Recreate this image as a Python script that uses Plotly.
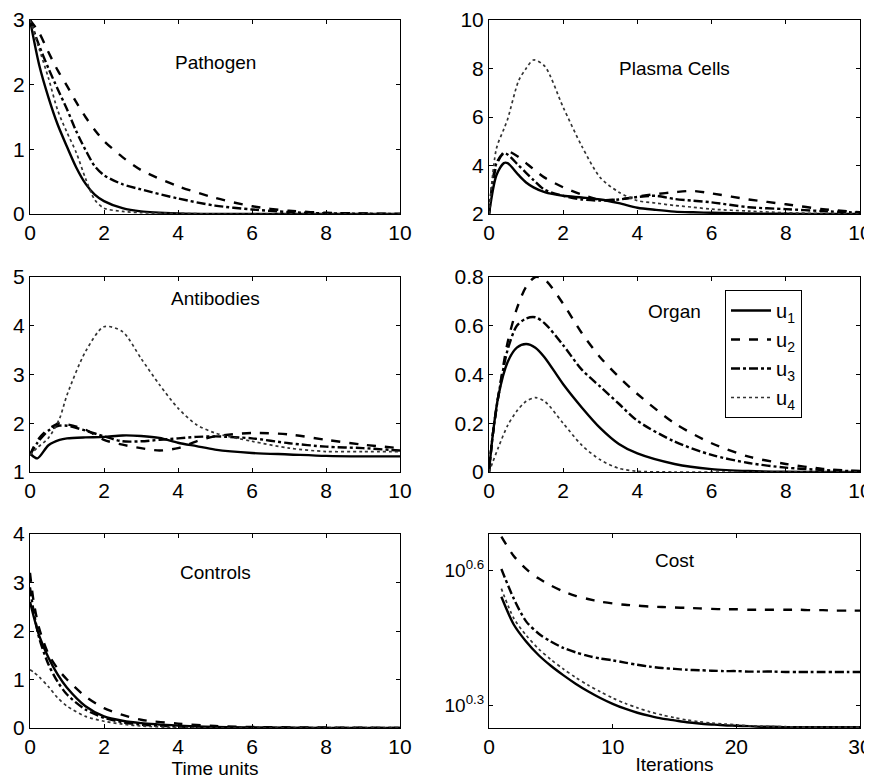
import plotly.graph_objects as go

# ---------------- data ----------------
series_names = ["u<sub>1</sub>", "u<sub>2</sub>", "u<sub>3</sub>", "u<sub>4</sub>"]

t_path = [0, 0.25, 0.5, 0.75, 1, 1.25, 1.5, 1.75, 2, 2.5, 3, 4, 5, 6, 7, 8, 10]
path_u1 = [3.0, 2.3, 1.8, 1.38, 1.04, 0.72, 0.47, 0.3, 0.2, 0.09, 0.04, 0.01, 0, 0, 0, 0, 0]
path_u2 = [3.0, 2.8, 2.5, 2.22, 1.98, 1.73, 1.5, 1.3, 1.13, 0.88, 0.68, 0.43, 0.25, 0.12, 0.05, 0.02, 0]
path_u3 = [3.0, 2.6, 2.25, 1.93, 1.62, 1.28, 0.99, 0.74, 0.6, 0.46, 0.38, 0.24, 0.13, 0.07, 0.03, 0.01, 0]
path_u4 = [3.0, 2.55, 2.1, 1.6, 1.26, 0.95, 0.55, 0.22, 0.09, 0.04, 0.02, 0.01, 0, 0, 0, 0, 0]

t_plas = [0, 0.2, 0.4, 0.5, 0.8, 1, 1.2, 1.5, 2, 2.5, 3, 3.5, 4, 4.5, 5, 5.5, 6, 7, 8, 9, 10]
plas_u1 = [2, 3.6, 4.1, 4.1, 3.6, 3.3, 3.1, 2.9, 2.75, 2.68, 2.6, 2.45, 2.26, 2.17, 2.1, 2.07, 2.05, 2.02, 2.01, 2.0, 2.0]
plas_u2 = [2, 4.0, 4.55, 4.6, 4.35, 4.1, 3.85, 3.5, 3.1, 2.8, 2.58, 2.6, 2.72, 2.82, 2.9, 2.95, 2.85, 2.6, 2.4, 2.2, 2.07]
plas_u3 = [2, 4.1, 4.5, 4.45, 4.0, 3.7, 3.4, 3.0, 2.75, 2.6, 2.55, 2.6, 2.7, 2.75, 2.62, 2.55, 2.48, 2.28, 2.2, 2.12, 2.05]
plas_u4 = [2, 4.7, 5.5, 5.9, 7.5, 8.0, 8.35, 8.1, 6.4, 4.8, 3.5, 2.9, 2.55, 2.45, 2.35, 2.28, 2.2, 2.12, 2.05, 2.02, 2.0]

t_anti = [0, 0.2, 0.5, 0.8, 1, 1.5, 2, 2.5, 3, 3.5, 4, 4.5, 5, 6, 7, 8, 9, 10]
anti_u1 = [1.38, 1.28, 1.55, 1.66, 1.69, 1.71, 1.72, 1.75, 1.74, 1.70, 1.6, 1.53, 1.46, 1.39, 1.36, 1.33, 1.32, 1.32]
anti_u2 = [1.35, 1.65, 1.88, 2.0, 1.98, 1.87, 1.66, 1.56, 1.49, 1.44, 1.49, 1.63, 1.73, 1.80, 1.77, 1.66, 1.56, 1.49]
anti_u3 = [1.35, 1.6, 1.85, 1.95, 1.95, 1.85, 1.73, 1.63, 1.63, 1.66, 1.69, 1.72, 1.73, 1.69, 1.59, 1.52, 1.49, 1.44]
anti_u4 = [1.35, 1.5, 1.7, 2.1, 2.58, 3.47, 3.98, 3.88, 3.33, 2.79, 2.31, 1.97, 1.80, 1.63, 1.49, 1.42, 1.42, 1.42]

t_org = [0, 0.1, 0.25, 0.5, 0.75, 1, 1.25, 1.5, 2, 2.5, 3, 3.5, 4, 5, 6, 7, 8, 9, 10]
org_u1 = [0, 0.15, 0.31, 0.45, 0.51, 0.525, 0.51, 0.47, 0.36, 0.265, 0.18, 0.115, 0.076, 0.033, 0.012, 0.004, 0.001, 0, 0]
org_u2 = [0, 0.15, 0.31, 0.53, 0.67, 0.76, 0.8, 0.79, 0.69, 0.57, 0.47, 0.39, 0.32, 0.2, 0.118, 0.063, 0.033, 0.013, 0.004]
org_u3 = [0, 0.15, 0.31, 0.5, 0.6, 0.63, 0.635, 0.61, 0.52, 0.42, 0.35, 0.28, 0.21, 0.125, 0.07, 0.037, 0.018, 0.008, 0.003]
org_u4 = [0, 0.04, 0.1, 0.19, 0.25, 0.29, 0.305, 0.29, 0.2, 0.11, 0.05, 0.015, 0.003, 0, 0, 0, 0, 0, 0]

t_ctrl = [0, 0.1, 0.25, 0.5, 0.75, 1, 1.5, 2, 2.5, 3, 4, 5, 6, 8, 10]
ctrl_u1 = [2.6, 2.3, 1.9, 1.45, 1.1, 0.83, 0.45, 0.24, 0.15, 0.10, 0.05, 0.02, 0.01, 0, 0]
ctrl_u2 = [3.2, 2.6, 2.05, 1.52, 1.22, 1.0, 0.65, 0.41, 0.27, 0.17, 0.09, 0.04, 0.02, 0.01, 0]
ctrl_u3 = [2.9, 2.4, 1.85, 1.31, 0.95, 0.69, 0.38, 0.21, 0.12, 0.07, 0.03, 0.01, 0, 0, 0]
ctrl_u4 = [1.2, 1.15, 1.05, 0.85, 0.62, 0.45, 0.24, 0.14, 0.08, 0.04, 0.01, 0, 0, 0, 0]

iters = list(range(1, 31))
cost_u1 = [3.483, 3.020, 2.767, 2.582, 2.443, 2.328, 2.228, 2.143, 2.070, 2.009,
           1.959, 1.919, 1.888, 1.862, 1.845, 1.828, 1.816, 1.807, 1.799, 1.795,
           1.791, 1.786, 1.786, 1.782, 1.782, 1.782, 1.782, 1.782, 1.782, 1.782]
cost_u2 = [4.742, 4.295, 4.018, 3.828, 3.690, 3.581, 3.499, 3.443, 3.396, 3.365,
           3.342, 3.327, 3.311, 3.304, 3.296, 3.289, 3.281, 3.273, 3.266, 3.266,
           3.258, 3.258, 3.258, 3.258, 3.258, 3.251, 3.251, 3.243, 3.243, 3.243]
cost_u3 = [4.018, 3.451, 3.069, 2.884, 2.767, 2.679, 2.618, 2.570, 2.535, 2.512,
           2.483, 2.455, 2.432, 2.415, 2.404, 2.393, 2.388, 2.382, 2.377, 2.377,
           2.371, 2.371, 2.371, 2.366, 2.366, 2.366, 2.366, 2.366, 2.366, 2.366]
cost_u4 = [3.631, 3.119, 2.858, 2.667, 2.523, 2.404, 2.301, 2.213, 2.138, 2.070,
           2.014, 1.968, 1.928, 1.897, 1.871, 1.849, 1.832, 1.820, 1.811, 1.803,
           1.795, 1.791, 1.786, 1.786, 1.782, 1.782, 1.782, 1.782, 1.782, 1.782]

time_ticks = [0, 2, 4, 6, 8, 10]
iter_ticks = [0, 10, 20, 30]
cost_tickvals = [10 ** 0.3, 10 ** 0.6]
cost_ticktext = ["10<sup>0.3</sup>", "10<sup>0.6</sup>"]

# ---------------- styles ----------------
dashes = ["solid", "dash", "dashdot", "dot"]
widths = [2.4, 2.4, 2.4, 1.7]
colors = ["#000000", "#000000", "#000000", "#333333"]
FONT = "Liberation Sans, Arial, Helvetica, sans-serif"

W, H = 872, 784
OFF = 8  # page body margin offset
def xd(a, b):
    return [(a - OFF) / W, (b - OFF) / W]
def yd(top, bot):
    return [1 - (bot - OFF) / H, 1 - (top - OFF) / H]

fig = go.Figure()

panels = [
    (t_path, [path_u1, path_u2, path_u3, path_u4], 1),
    (t_plas, [plas_u1, plas_u2, plas_u3, plas_u4], 2),
    (t_anti, [anti_u1, anti_u2, anti_u3, anti_u4], 3),
    (t_org, [org_u1, org_u2, org_u3, org_u4], 4),
    (t_ctrl, [ctrl_u1, ctrl_u2, ctrl_u3, ctrl_u4], 5),
    (iters, [cost_u1, cost_u2, cost_u3, cost_u4], 6),
]

for xs, ser, k in panels:
    for i, ys in enumerate(ser):
        fig.add_trace(go.Scatter(
            x=xs, y=ys, mode="lines",
            line=dict(color=colors[i], width=widths[i], dash=dashes[i],
                      shape="spline", smoothing=0.8),
            name=series_names[i],
            showlegend=(k == 4),
            xaxis="x" if k == 1 else f"x{k}",
            yaxis="y" if k == 1 else f"y{k}",
        ))

axis_common = dict(showline=True, linecolor="black", linewidth=1, mirror="allticks",
                   ticks="inside", ticklen=4, tickcolor="black", showgrid=False,
                   zeroline=False, automargin=False,
                   tickfont=dict(family=FONT, size=21, color="black"))

left = xd(30, 400)
right = xd(489, 860)
rows = [yd(20, 214), yd(277, 472), yd(534, 728)]

layout = dict(
    width=W, height=H, margin=dict(l=0, r=0, t=0, b=0, autoexpand=False),
    paper_bgcolor="white", plot_bgcolor="white",
    font=dict(family=FONT, size=18, color="black"),
    showlegend=True,
    legend=dict(x=(725 - OFF) / W, y=1 - (290 - OFF) / H, xanchor="left", yanchor="top",
                bordercolor="black", borderwidth=1, bgcolor="white",
                font=dict(family=FONT, size=20, color="black"),
                itemwidth=40, tracegroupgap=0),
)

specs = [
    (1, left, rows[0], [0, 10], [0, 3], time_ticks, [0, 1, 2, 3], "linear", None),
    (2, right, rows[0], [0, 10], [2, 10], time_ticks, [2, 4, 6, 8, 10], "linear", None),
    (3, left, rows[1], [0, 10], [1, 5], time_ticks, [1, 2, 3, 4, 5], "linear", None),
    (4, right, rows[1], [0, 10], [0, 0.8], time_ticks, [0, 0.2, 0.4, 0.6, 0.8], "linear", None),
    (5, left, rows[2], [0, 10], [0, 4], time_ticks, [0, 1, 2, 3, 4], "linear", "Time units"),
    (6, right, rows[2], [0, 30], [0.249, 0.682], iter_ticks, cost_tickvals, "log", "Iterations"),
]

for k, xdom, ydom, xr, yr, xt, yt, ytype, xtitle in specs:
    xn = "xaxis" if k == 1 else f"xaxis{k}"
    yn = "yaxis" if k == 1 else f"yaxis{k}"
    xa = dict(axis_common, domain=xdom, range=xr, tickvals=xt,
              anchor="y" if k == 1 else f"y{k}")
    if xtitle:
        xa["title"] = dict(text=xtitle, font=dict(family=FONT, size=19, color="black"), standoff=0)
    ya = dict(axis_common, domain=ydom, range=yr, type=ytype, tickvals=yt,
              anchor="x" if k == 1 else f"x{k}")
    if ytype == "log":
        ya["ticktext"] = cost_ticktext
        ya["tickfont"] = dict(family=FONT, size=19, color="black")
    layout[xn] = xa
    layout[yn] = ya

fig.update_layout(**layout)

titles = [
    ("Pathogen", "x", "y", 5, 2.35),
    ("Plasma Cells", "x2", "y2", 5, 8.0),
    ("Antibodies", "x3", "y3", 5, 4.55),
    ("Organ", "x4", "y4", 5.0, 0.66),
    ("Controls", "x5", "y5", 5, 3.2),
    ("Cost", "x6", "y6", 15, 0.622),
]
for txt, xr_, yr_, xv, yv in titles:
    fig.add_annotation(text=txt, xref=xr_, yref=yr_, x=xv, y=yv, showarrow=False,
                       font=dict(family=FONT, size=19, color="black"))

fig.write_html("out.html")
